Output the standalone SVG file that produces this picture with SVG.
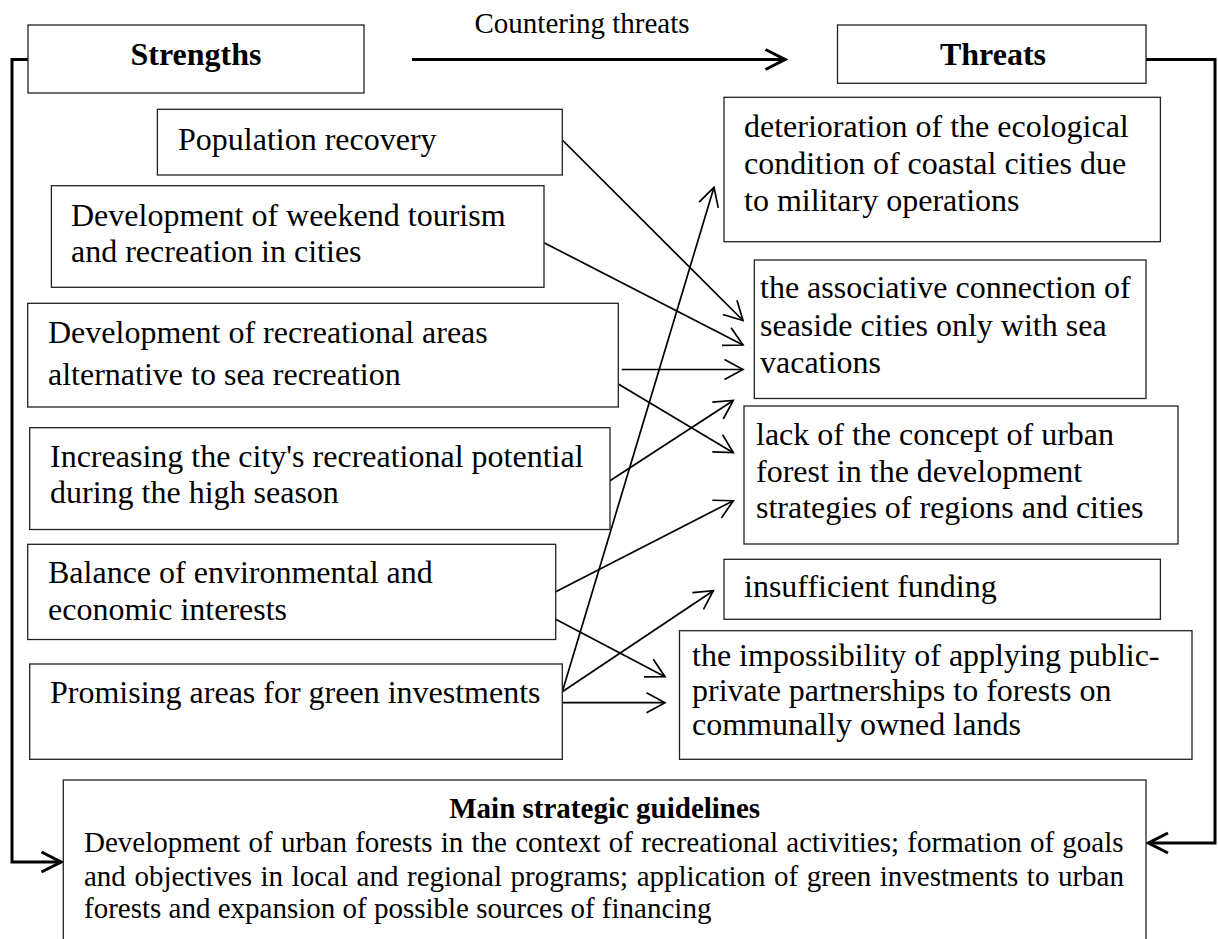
<svg xmlns="http://www.w3.org/2000/svg" width="1218" height="939" viewBox="0 0 1218 939">
<defs>
<style>
.box{fill:#fff;stroke:#222;stroke-width:1.3}
.t{font-family:"Liberation Serif","Times New Roman",serif;font-size:32px;fill:#000}
.h{font-family:"Liberation Serif","Times New Roman",serif;font-size:32px;font-weight:bold;fill:#000;text-anchor:middle}
.m{font-family:"Liberation Serif","Times New Roman",serif;font-size:29px;fill:#000}
.mh{font-family:"Liberation Serif","Times New Roman",serif;font-size:29px;font-weight:bold;fill:#000;text-anchor:middle}
.c{fill:none;stroke:#000;stroke-width:1.7}
.ct{fill:none;stroke:#000;stroke-width:3}
</style>
<marker id="a" markerUnits="userSpaceOnUse" viewBox="-21 -12 23 24" markerWidth="23" markerHeight="24" refX="0" refY="0" orient="auto">
<path d="M-18.5,-10 L0,0 L-18.5,10" fill="none" stroke="#000" stroke-width="1.7"/>
</marker>
<marker id="A" markerUnits="userSpaceOnUse" viewBox="-23 -13 26 26" markerWidth="26" markerHeight="26" refX="0" refY="0" orient="auto">
<path d="M-19.5,-10 L0,0 L-19.5,10" fill="none" stroke="#000" stroke-width="3"/>
</marker>
</defs>
<rect width="1218" height="939" fill="#fff"/>

<g id="connectors">
<line class="ct" x1="412" y1="59.5" x2="785" y2="59.5" marker-end="url(#A)"/>
<text class="m" x="474.5" y="33.3">Countering threats</text>
<polyline class="ct" points="28,59.5 12,59.5 12,862 61,862" marker-end="url(#A)"/>
<polyline class="ct" points="1146,59.5 1215,59.5 1215,843 1148.5,843" marker-end="url(#A)"/>
<line class="c" x1="562.3" y1="140" x2="743" y2="320.5" marker-end="url(#a)"/>
<line class="c" x1="544" y1="242.7" x2="743" y2="345" marker-end="url(#a)"/>
<line class="c" x1="621.7" y1="369.5" x2="743" y2="369.5" marker-end="url(#a)"/>
<line class="c" x1="618.3" y1="384" x2="733.3" y2="452.7" marker-end="url(#a)"/>
<line class="c" x1="610" y1="480.7" x2="733.3" y2="400.5" marker-end="url(#a)"/>
<line class="c" x1="555.7" y1="591.7" x2="733.3" y2="500.7" marker-end="url(#a)"/>
<line class="c" x1="555.7" y1="619.3" x2="665" y2="676.7" marker-end="url(#a)"/>
<line class="c" x1="562.3" y1="691.7" x2="714" y2="187.3" marker-end="url(#a)"/>
<line class="c" x1="562.3" y1="691.7" x2="713.3" y2="590.7" marker-end="url(#a)"/>
<line class="c" x1="562.3" y1="702.7" x2="665" y2="702.7" marker-end="url(#a)"/>
</g>

<g id="strengths">
<rect class="box" x="28" y="25" width="336" height="68"/>
<text class="h" x="196" y="65">Strengths</text>
</g>
<g id="threats">
<rect class="box" x="837.5" y="25" width="308.5" height="58.3"/>
<text class="h" x="993" y="65">Threats</text>
</g>

<g id="s1">
<rect class="box" x="157.4" y="109.3" width="404.9" height="65.7"/>
<text class="t" x="178" y="150">Population recovery</text>
</g>
<g id="s2">
<rect class="box" x="51.4" y="185.7" width="492.6" height="101.6"/>
<text class="t" x="71" y="226">Development of weekend tourism</text>
<text class="t" x="71" y="262">and recreation in cities</text>
</g>
<g id="s3">
<rect class="box" x="27.7" y="303.3" width="590.6" height="103.7"/>
<text class="t" x="48" y="343">Development of recreational areas</text>
<text class="t" x="48" y="385">alternative to sea recreation</text>
</g>
<g id="s4">
<rect class="box" x="29.7" y="427.7" width="580.3" height="101.8"/>
<text class="t" x="50" y="467">Increasing the city's recreational potential</text>
<text class="t" x="50" y="503">during the high season</text>
</g>
<g id="s5">
<rect class="box" x="27.7" y="544.3" width="528" height="95.2"/>
<text class="t" x="48" y="583">Balance of environmental and</text>
<text class="t" x="48" y="620">economic interests</text>
</g>
<g id="s6">
<rect class="box" x="29.7" y="664" width="532.6" height="95.3"/>
<text class="t" x="50" y="703">Promising areas for green investments</text>
</g>

<g id="t1">
<rect class="box" x="724" y="97.3" width="436.4" height="144.4"/>
<text class="t" x="744" y="137">deterioration of the ecological</text>
<text class="t" x="744" y="174">condition of coastal cities due</text>
<text class="t" x="744" y="211">to military operations</text>
</g>
<g id="t2">
<rect class="box" x="754.3" y="260" width="391.7" height="138.5"/>
<text class="t" x="760" y="298">the associative connection of</text>
<text class="t" x="760" y="336">seaside cities only with sea</text>
<text class="t" x="760" y="373">vacations</text>
</g>
<g id="t3">
<rect class="box" x="744" y="406" width="434" height="138"/>
<text class="t" x="756" y="445">lack of the concept of urban</text>
<text class="t" x="756" y="482">forest in the development</text>
<text class="t" x="756" y="518">strategies of regions and cities</text>
</g>
<g id="t4">
<rect class="box" x="724" y="559.3" width="436.4" height="60"/>
<text class="t" x="744" y="597">insufficient funding</text>
</g>
<g id="t5">
<rect class="box" x="679.5" y="630.7" width="512.5" height="128.6"/>
<text class="t" x="692" y="666">the impossibility of applying public-</text>
<text class="t" x="692" y="701">private partnerships to forests on</text>
<text class="t" x="692" y="735">communally owned lands</text>
</g>

<g id="main">
<rect class="box" x="63.3" y="780" width="1082.7" height="200"/>
<text class="mh" x="604.7" y="818">Main strategic guidelines</text>
<text class="m" x="84" y="852" word-spacing="1">Development of urban forests in the context of recreational activities; formation of goals</text>
<text class="m" x="84" y="886" word-spacing="1.3">and objectives in local and regional programs; application of green investments to urban</text>
<text class="m" x="84" y="918">forests and expansion of possible sources of financing</text>
</g>
</svg>
